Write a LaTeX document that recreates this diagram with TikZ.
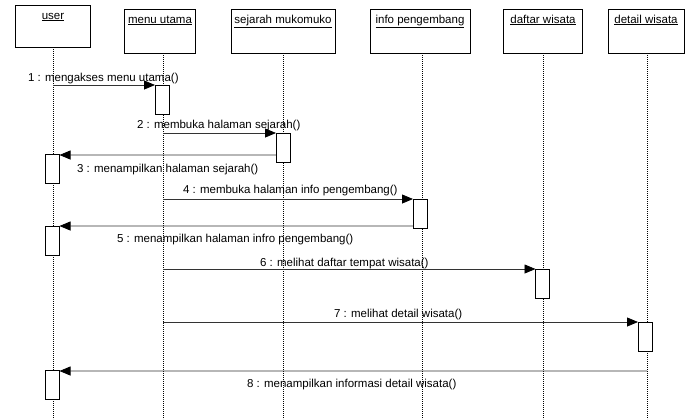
\documentclass[tikz,border=0pt]{standalone}
\usepackage{fontspec}
\setmainfont{Liberation Sans}
\usetikzlibrary{arrows.meta}
\begin{document}
\begin{tikzpicture}[x=1bp,y=-1bp,
  every node/.style={font=\fontsize{11.5bp}{13bp}\selectfont, inner sep=0pt, outer sep=0pt},
  headbox/.style={draw, line width=0.8bp, fill=white, anchor=north west},
  headlabel/.style={anchor=base},
  life/.style={line width=0.6bp, dash pattern=on 1bp off 1bp},
  act/.style={draw, line width=0.8bp, fill=white, anchor=north, minimum width=14bp, minimum height=29bp},
  msg/.style={line width=0.8bp, draw=black!80, -{Triangle[length=11bp,width=9bp,color=black,fill=black]}},
  msglabel/.style={anchor=base west}]
\useasboundingbox[fill=white] (0,0) rectangle (689,419);

% object heads
\node[headbox, minimum width=75bp, minimum height=42bp] (user) at (15,5) {};
\node[headbox, minimum width=71bp, minimum height=44bp] (menu) at (124,9) {};
\node[headbox, minimum width=104bp, minimum height=44bp] (sej) at (231,9) {};
\node[headbox, minimum width=100bp, minimum height=44bp] (info) at (370,9) {};
\node[headbox, minimum width=79bp, minimum height=44bp] (daftar) at (503,9) {};
\node[headbox, minimum width=76bp, minimum height=44bp] (detail) at (608,9) {};

\node[headlabel] at (53,19) {\underline{user}};
\node[headlabel] at (160,23) {\underline{menu utama}};
\node[headlabel] at (283,23) {\underline{sejarah mukomuko}};
\node[headlabel] at (420,23) {\underline{info pengembang}};
\node[headlabel] at (543,23) {\underline{daftar wisata}};
\node[headlabel] at (646,23) {\underline{detail wisata}};

% lifeline ends
\coordinate (userE) at (53,419);
\coordinate (menuE) at (163,419);
\coordinate (sejE) at (283,419);
\coordinate (infoE) at (422,419);
\coordinate (daftarE) at (543,419);
\coordinate (detailE) at (647,419);

\draw[life] (53,47) -- (userE);
\draw[life] (163,53) -- (menuE);
\draw[life] (283,53) -- (sejE);
\draw[life] (422,53) -- (infoE);
\draw[life] (543,53) -- (daftarE);
\draw[life] (647,53) -- (detailE);

% activations
\node[act] (a1) at (162,85) {};
\node[act] (a2) at (283,133) {};
\node[act] (u1) at (52.5,154) {};
\node[act] (a4) at (420,199) {};
\node[act] (u2) at (52.5,226) {};
\node[act] (a6) at (542.5,269) {};
\node[act] (a7) at (645,322) {};
\node[act] (u3) at (52.5,370.5) {};

% message start points on lifelines
\coordinate (s1) at (53,85);
\coordinate (s2) at (163,133);
\coordinate (s4) at (163,199);
\coordinate (s6) at (163,269);
\coordinate (s7) at (163,322);
\coordinate (s8) at (647,371);

% messages
\draw[msg] (s1) -- (a1.north west);
\draw[msg] (s2) -- (a2.north west);
\draw[msg] ([yshift=7bp]a2.south west) -- ([yshift=-1bp]u1.north east);
\draw[msg] (s4) -- (a4.north west);
\draw[msg] ([yshift=2bp]a4.south west) -- (u2.north east);
\draw[msg] (s6) -- (a6.north west);
\draw[msg] (s7) -- (a7.north west);
\draw[msg] (s8) -- ([yshift=-0.5bp]u3.north east);

% message labels
\node[msglabel] at (28,81) {1 : mengakses menu utama()};
\node[msglabel] at (137,128) {2 : membuka halaman sejarah()};
\node[msglabel] at (77,172) {3 : menampilkan halaman sejarah()};
\node[msglabel] at (183,193) {4 : membuka halaman info pengembang()};
\node[msglabel] at (117,242) {5 : menampilkan halaman infro pengembang()};
\node[msglabel] at (260,266) {6 : melihat daftar tempat wisata()};
\node[msglabel] at (334,317) {7 : melihat detail wisata()};
\node[msglabel] at (247,387) {8 : menampilkan informasi detail wisata()};
\end{tikzpicture}
\end{document}
